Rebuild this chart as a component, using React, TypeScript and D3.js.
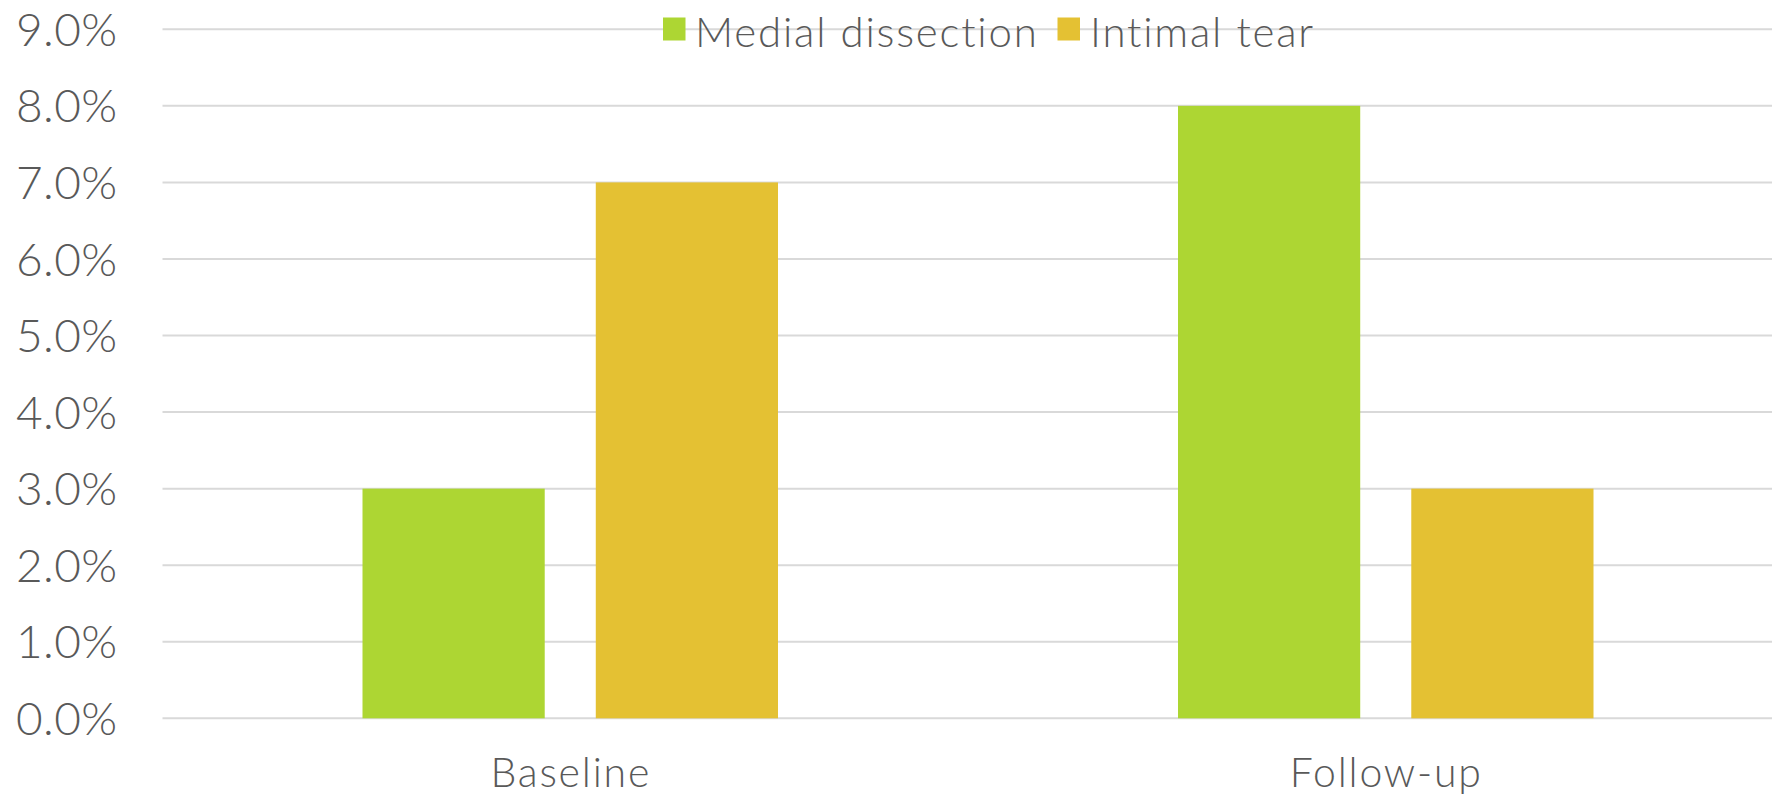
import React from 'react';
import * as d3 from 'd3';

// chart data
const categories = ['Baseline', 'Follow-up'];
const seriesNames = ['Medial dissection', 'Intimal tear'];
const medialDissection = [0.03, 0.08];
const intimalTear = [0.07, 0.03];
const yTicks = [0, 0.01, 0.02, 0.03, 0.04, 0.05, 0.06, 0.07, 0.08, 0.09];

const colors = ['#ADD633', '#E4C133'];
const textColor = '#595959';
const fontFamily = 'Lato, "Open Sans", sans-serif';

const width = 1772;
const height = 796;

const App = () => {
  const plotLeft = 162.5;
  const band = 815.5;

  const y = d3.scaleLinear().domain([0, 0.09]).range([718.3, 29.3]);

  // the plot area runs past the right edge of the picture
  const x0 = d3
    .scaleBand<string>()
    .domain(categories)
    .range([plotLeft, plotLeft + band * categories.length])
    .paddingInner(0)
    .paddingOuter(0);

  const x1 = d3
    .scaleBand<string>()
    .domain(seriesNames)
    .range([200, band - 200])
    .paddingInner(51 / 233)
    .paddingOuter(0);

  const values = [medialDissection, intimalTear];
  const fmt = d3.format('.1%');

  const legendItems = [
    { name: seriesNames[0], box: 663, text: 695 },
    { name: seriesNames[1], box: 1057.5, text: 1090 },
  ];

  return (
    <svg
      width={width}
      height={height}
      style={{ position: 'absolute', left: 0, top: 0, display: 'block', background: '#fff' }}
      fontFamily={fontFamily}
      fontWeight={300}
    >
      {/* gridlines */}
      {yTicks.map((t) => (
        <line
          key={'g' + t}
          x1={plotLeft}
          x2={width}
          y1={y(t)}
          y2={y(t)}
          stroke="#D9D9D9"
          strokeWidth={2}
        />
      ))}

      {/* y tick labels */}
      {yTicks.map((t) => (
        <text
          key={'t' + t}
          x={117.5}
          y={y(t)}
          dy="0.36em"
          textAnchor="end"
          fontSize={46}
          letterSpacing={0.4}
          fill={textColor}
        >
          {fmt(t)}
        </text>
      ))}

      {/* bars */}
      {categories.map((c, ci) =>
        seriesNames.map((s, si) => (
          <rect
            key={c + s}
            x={(x0(c) ?? 0) + (x1(s) ?? 0)}
            y={y(values[si][ci])}
            width={x1.bandwidth()}
            height={y(0) - y(values[si][ci])}
            fill={colors[si]}
          />
        ))
      )}

      {/* category labels */}
      {categories.map((c) => (
        <text
          key={'c' + c}
          x={(x0(c) ?? 0) + x0.bandwidth() / 2 + 0.5}
          y={786.7}
          textAnchor="middle"
          fontSize={41}
          letterSpacing={1.8}
          fill={textColor}
        >
          {c}
        </text>
      ))}

      {/* legend */}
      {legendItems.map((d, i) => (
        <g key={'l' + d.name}>
          <rect x={d.box} y={17.5} width={22.5} height={23} fill={colors[i]} />
          <text x={d.text} y={46.7} fontSize={42} letterSpacing={1.8} fill={textColor}>
            {d.name}
          </text>
        </g>
      ))}
    </svg>
  );
};

export default App;
